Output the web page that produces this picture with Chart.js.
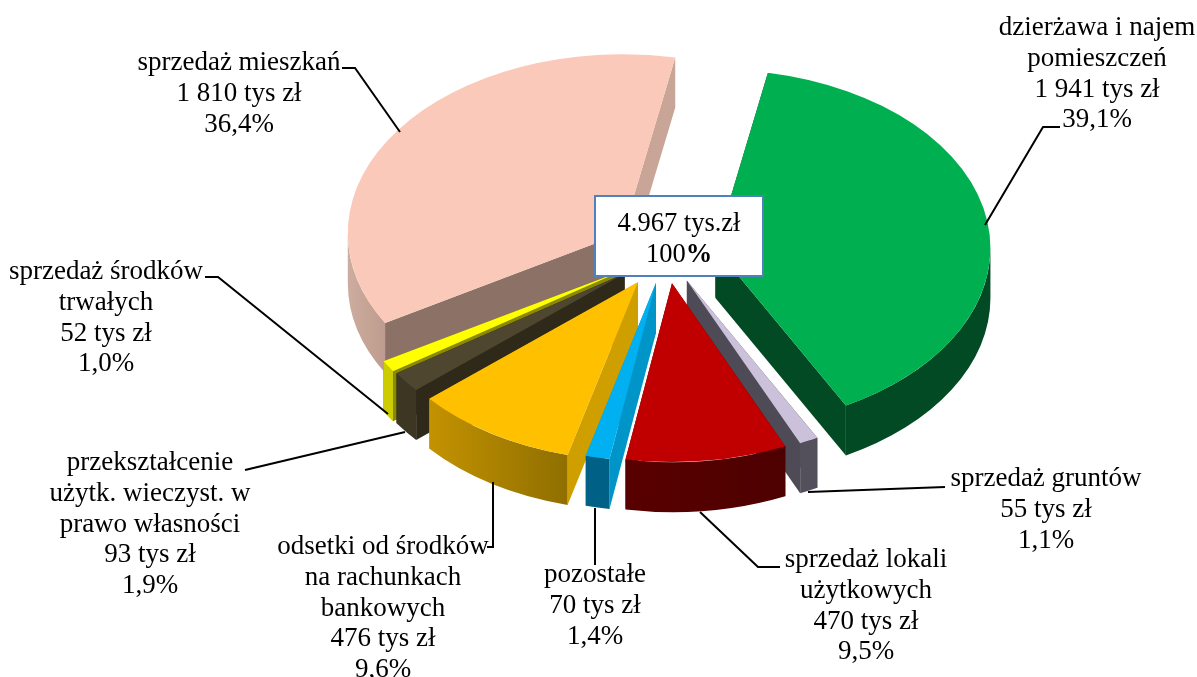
<!DOCTYPE html>
<html lang="pl">
<head>
<meta charset="utf-8">
<title>Wykres</title>
<script src="https://cdn.jsdelivr.net/npm/chart.js@4"></script>
<style>
  html, body { margin: 0; padding: 0; background: #fff; overflow: hidden; }
  canvas { display: block; }
</style>
</head>
<body>
<canvas id="pie3d" width="1197" height="677"></canvas>
<script>
// DANE
const categories = [
  "dzierżawa i najem pomieszczeń",
  "sprzedaż gruntów",
  "sprzedaż lokali użytkowych",
  "pozostałe",
  "odsetki od środków na rachunkach bankowych",
  "przekształcenie użytk. wieczyst. w prawo własności",
  "sprzedaż środków trwałych",
  "sprzedaż mieszkań",
];
const values = [1941, 55, 470, 70, 476, 93, 52, 1810];
const amountLabels = ["1 941 tys zł", "55 tys zł", "470 tys zł", "70 tys zł", "476 tys zł", "93 tys zł", "52 tys zł", "1 810 tys zł"];
const percentLabels = ["39,1%", "1,1%", "9,5%", "1,4%", "9,6%", "1,9%", "1,0%", "36,4%"];

// WYGLĄD
const topColors = ["#00B050", "#CCC1DA", "#C00000", "#00B0F0", "#FFC000", "#4F4630", "#FFFF00", "#FAC9B9"];
const startWallColors = ["#024A23", "#4F4B56", "#590000", "#0095C8", "#CF9F00", "#2E2918", "#8A8A00", "#8C7166"];
const endWallColors = ["#024A23", "#4F4B56", "#590000", "#0095C8", "#CF9F00", "#2E2918", "#8A8A00", "#C9A598"];
const rimLeft = ["#024A23", "#54505B", "#590000", "#006085", "#C39200", "#3D3623", "#CCCC00", "#CDAD9F"];
const rimRight = ["#024A23", "#54505B", "#4E0000", "#006085", "#8F6F00", "#3D3623", "#CCCC00", "#BE9B8E"];
const explode = [50, 47, 47, 47, 53, 52, 53, 53];
const drawOrder = [7, 0, 6, 5, 4, 1, 2, 3];
const squash = 0.65;
const depth = 50;
const serif = '"Liberation Serif", "Times New Roman", serif';

// polozenie opisow: srodek x, y pierwszej linii bazowej, tekst
const captionLines = [
  ["dzierżawa i najem", "pomieszczeń", amountLabels[0], percentLabels[0]],
  ["sprzedaż gruntów", amountLabels[1], percentLabels[1]],
  ["sprzedaż lokali", "użytkowych", amountLabels[2], percentLabels[2]],
  ["pozostałe", amountLabels[3], percentLabels[3]],
  ["odsetki od środków", "na rachunkach", "bankowych", amountLabels[4], percentLabels[4]],
  ["przekształcenie", "użytk. wieczyst. w", "prawo własności", amountLabels[5], percentLabels[5]],
  ["sprzedaż środków", "trwałych", amountLabels[6], percentLabels[6]],
  ["sprzedaż mieszkań", amountLabels[7], percentLabels[7]],
];
const captionX = [1097, 1046, 866, 595, 383, 150, 106, 239];
const captionY = [35, 486, 567, 582, 554, 470, 279, 70];
const leaders = [
  [[1060, 127], [1043, 127], [985, 225]],
  [[945, 487], [808, 492]],
  [[780, 567], [758, 567], [700, 512]],
  [[595, 565], [595, 508]],
  [[487, 547], [493, 547], [493, 482]],
  [[245, 470], [405, 432]],
  [[205, 277], [218, 277], [388, 414]],
  [[342, 68], [355, 68], [400, 132]],
];

// RYSOWANIE KOLA 3D
const pie3d = {
  id: "pie3d",
  beforeDatasetDraw(chart) {
    const ctx = chart.ctx;
    const arcs = chart.getDatasetMeta(0).data;

    drawOrder.forEach((i) => {
      const arc = arcs[i];
      const mid = (arc.startAngle + arc.endAngle) / 2;
      const r = arc.outerRadius;
      const x = arc.x + Math.cos(mid) * explode[i];
      const y = arc.y + Math.sin(mid) * explode[i] * squash;
      const edge = (a) => [x + Math.cos(a) * r, y + Math.sin(a) * r * squash];

      // sciany przy krawedziach wycinka
      [arc.startAngle, arc.endAngle].forEach((a, n) => {
        const p = edge(a);
        ctx.fillStyle = n ? endWallColors[i] : startWallColors[i];
        ctx.beginPath();
        ctx.moveTo(x, y);
        ctx.lineTo(p[0], p[1]);
        ctx.lineTo(p[0], p[1] + depth);
        ctx.lineTo(x, y + depth);
        ctx.closePath();
        ctx.fill();
      });

      // obwod, tylko przednia polowa
      [0, 2 * Math.PI].forEach((base) => {
        const a0 = Math.max(arc.startAngle, base);
        const a1 = Math.min(arc.endAngle, base + Math.PI);
        if (a1 <= a0) return;
        const xs = [edge(a0)[0], edge(a1)[0]];
        const grad = ctx.createLinearGradient(Math.min(...xs), 0, Math.max(...xs), 0);
        grad.addColorStop(0, rimLeft[i]);
        grad.addColorStop(1, rimRight[i]);
        ctx.fillStyle = grad;
        ctx.beginPath();
        ctx.ellipse(x, y, r, r * squash, 0, a0, a1);
        ctx.ellipse(x, y + depth, r, r * squash, 0, a1, a0, true);
        ctx.closePath();
        ctx.fill();
      });

      // wierzch rysuje sam element Chart.js
      ctx.save();
      ctx.translate(x, y);
      ctx.scale(1, squash);
      ctx.translate(-arc.x, -arc.y);
      arc.draw(ctx);
      ctx.restore();
    });
    return false;
  },
  afterDraw(chart) {
    const ctx = chart.ctx;
    ctx.save();

    // linie odniesienia
    ctx.strokeStyle = "#000";
    ctx.lineWidth = 2;
    leaders.forEach((line) => {
      ctx.beginPath();
      line.forEach((p, n) => (n ? ctx.lineTo(p[0], p[1]) : ctx.moveTo(p[0], p[1])));
      ctx.stroke();
    });

    // opisy
    ctx.fillStyle = "#000";
    ctx.font = "27px " + serif;
    ctx.textAlign = "center";
    ctx.textBaseline = "alphabetic";
    captionLines.forEach((lines, i) => {
      lines.forEach((t, n) => ctx.fillText(t, captionX[i], captionY[i] + n * 30.8));
    });

    // ramka z suma
    ctx.fillStyle = "#fff";
    ctx.fillRect(595, 196, 168, 80);
    ctx.strokeStyle = "#4F81BD";
    ctx.strokeRect(595, 196, 168, 80);
    ctx.fillStyle = "#000";
    ctx.font = "26.5px " + serif;
    ctx.fillText("4.967 tys.zł", 679, 231);
    ctx.textAlign = "left";
    const w100 = ctx.measureText("100").width;
    ctx.font = "bold 26.5px " + serif;
    const wPct = ctx.measureText("%").width;
    const left = 679 - (w100 + wPct) / 2;
    ctx.fillText("%", left + w100, 262);
    ctx.font = "26.5px " + serif;
    ctx.fillText("100", left, 262);
    ctx.restore();
  },
};

const canvas = document.querySelector("#pie3d");
new Chart(canvas, {
  type: "pie",
  data: {
    labels: categories,
    datasets: [
      {
        data: values,
        backgroundColor: topColors,
        borderWidth: 0,
      },
    ],
  },
  options: {
    responsive: false,
    animation: false,
    rotation: 11,
    radius: 275,
    layout: {
      padding: { left: 135, bottom: 171 },
    },
    plugins: {
      legend: { display: false },
      tooltip: { enabled: false },
    },
  },
  plugins: [pie3d],
});
</script>
</body>
</html>
